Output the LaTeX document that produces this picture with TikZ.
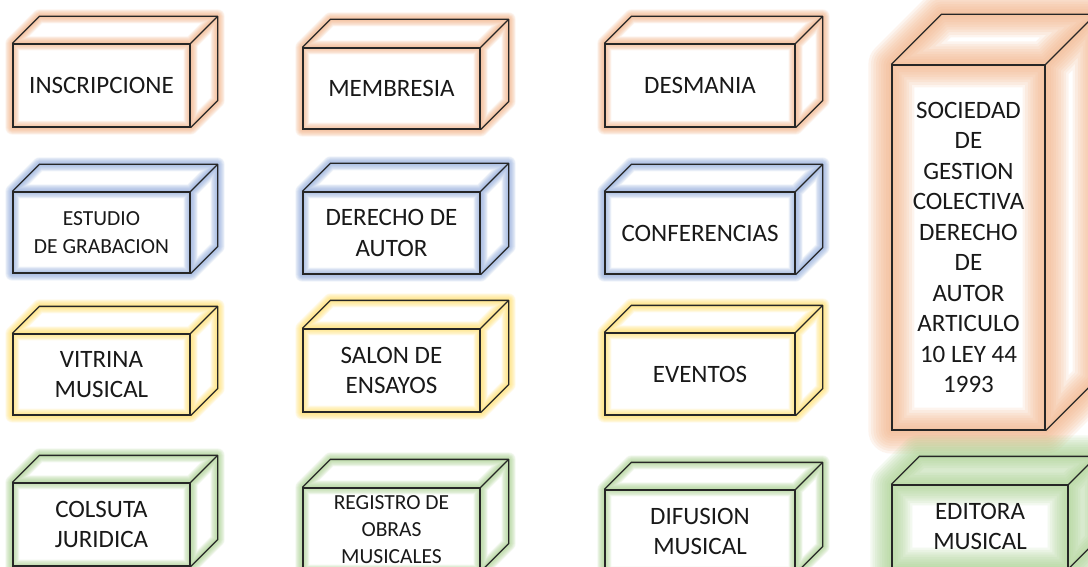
\documentclass[tikz,border=0pt]{standalone}
\usepackage{fontspec}
\setmainfont{Carlito}
\usetikzlibrary{backgrounds}

\definecolor{glowOrange}{HTML}{F4B183}
\definecolor{glowBlue}{HTML}{8FAADC}
\definecolor{glowYellow}{HTML}{FFE066}
\definecolor{glowGreen}{HTML}{A9D18E}

\begin{document}
\begin{tikzpicture}[
    x=1pt, y=-1pt,
    box/.style={rectangle, draw=black!85, line width=1.3pt, inner sep=0pt,
        align=center, text=black!90, font=\fontsize{25}{30.5}\selectfont},
    small/.style={font=\fontsize{21.5}{27.2}\selectfont},
    edge/.style={draw=black!85, line width=1.3pt, line join=round},
    glow/.style={line join=round, opacity=0.13}
]
    \useasboundingbox (0,0) rectangle (1088,567);
    \begin{scope}[on background layer]
        \fill[white] (0,0) rectangle (1088,567);
    \end{scope}

    % row 1
    \node[box, minimum width=177, minimum height=83] (insc) at (101.5,85.5) {INSCRIPCIONE};
    \node[box, minimum width=177, minimum height=81] (memb) at (391.5,88.5) {MEMBRESIA};
    \node[box, minimum width=190, minimum height=83] (desm) at (700,85.5) {DESMANIA};
    % row 2
    \node[box, small, minimum width=177, minimum height=81] (estu) at (101.5,232.5) {ESTUDIO\\DE GRABACION};
    \node[box, minimum width=177, minimum height=82] (dere) at (391.5,233) {DERECHO DE\\AUTOR};
    \node[box, minimum width=190, minimum height=82] (conf) at (700,233) {CONFERENCIAS};
    % row 3
    \node[box, minimum width=177, minimum height=81] (vitr) at (101.5,374.5) {VITRINA\\MUSICAL};
    \node[box, minimum width=177, minimum height=83] (salo) at (391.5,370.5) {SALON DE\\ENSAYOS};
    \node[box, minimum width=190, minimum height=82] (even) at (700,374) {EVENTOS};
    % row 4
    \node[box, minimum width=177, minimum height=83] (cols) at (101.5,524.5) {COLSUTA\\JURIDICA};
    \node[box, small, minimum width=177, minimum height=83] (regi) at (391.5,529.5) {REGISTRO DE\\OBRAS\\MUSICALES};
    \node[box, minimum width=190, minimum height=83] (difu) at (700,531.5) {DIFUSION\\MUSICAL};
    % right column
    \node[box, minimum width=153, minimum height=365] (soci) at (968.5,247.5)
        {SOCIEDAD\\DE\\GESTION\\COLECTIVA\\DERECHO\\DE\\AUTOR\\ARTICULO\\10 LEY 44\\1993};
    \node[box, minimum width=176, minimum height=83] (edit) at (980,526.5) {EDITORA\\MUSICAL};

    % top and right faces, with the glow behind them
    \foreach \n/\c/\d/\g in {insc/glowOrange/27/14, memb/glowOrange/28/14,
            desm/glowOrange/27/14, estu/glowBlue/27/14, dere/glowBlue/28/14,
            conf/glowBlue/27/14, vitr/glowYellow/27/14, salo/glowYellow/28/14,
            even/glowYellow/27/14, cols/glowGreen/27/14, regi/glowGreen/28/14,
            difu/glowGreen/27/14, soci/glowOrange/50/46, edit/glowGreen/28/42} {
        \begin{scope}[on background layer]
            \foreach \k in {1,...,9} {
                \draw[glow, draw=\c, line width=\g*\k/9]
                    (\n.north west) rectangle (\n.south east)
                    (\n.north west) -- ++(\d,-\d) -- ([shift={(\d,-\d)}]\n.north east)
                        -- ([shift={(\d,-\d)}]\n.south east) -- (\n.south east)
                    (\n.north east) -- ++(\d,-\d);
            }
        \end{scope}
        \draw[edge] (\n.north west) -- ++(\d,-\d) -- ([shift={(\d,-\d)}]\n.north east)
            -- ([shift={(\d,-\d)}]\n.south east) -- (\n.south east);
        \draw[edge] (\n.north east) -- ++(\d,-\d);
    }
\end{tikzpicture}
\end{document}
